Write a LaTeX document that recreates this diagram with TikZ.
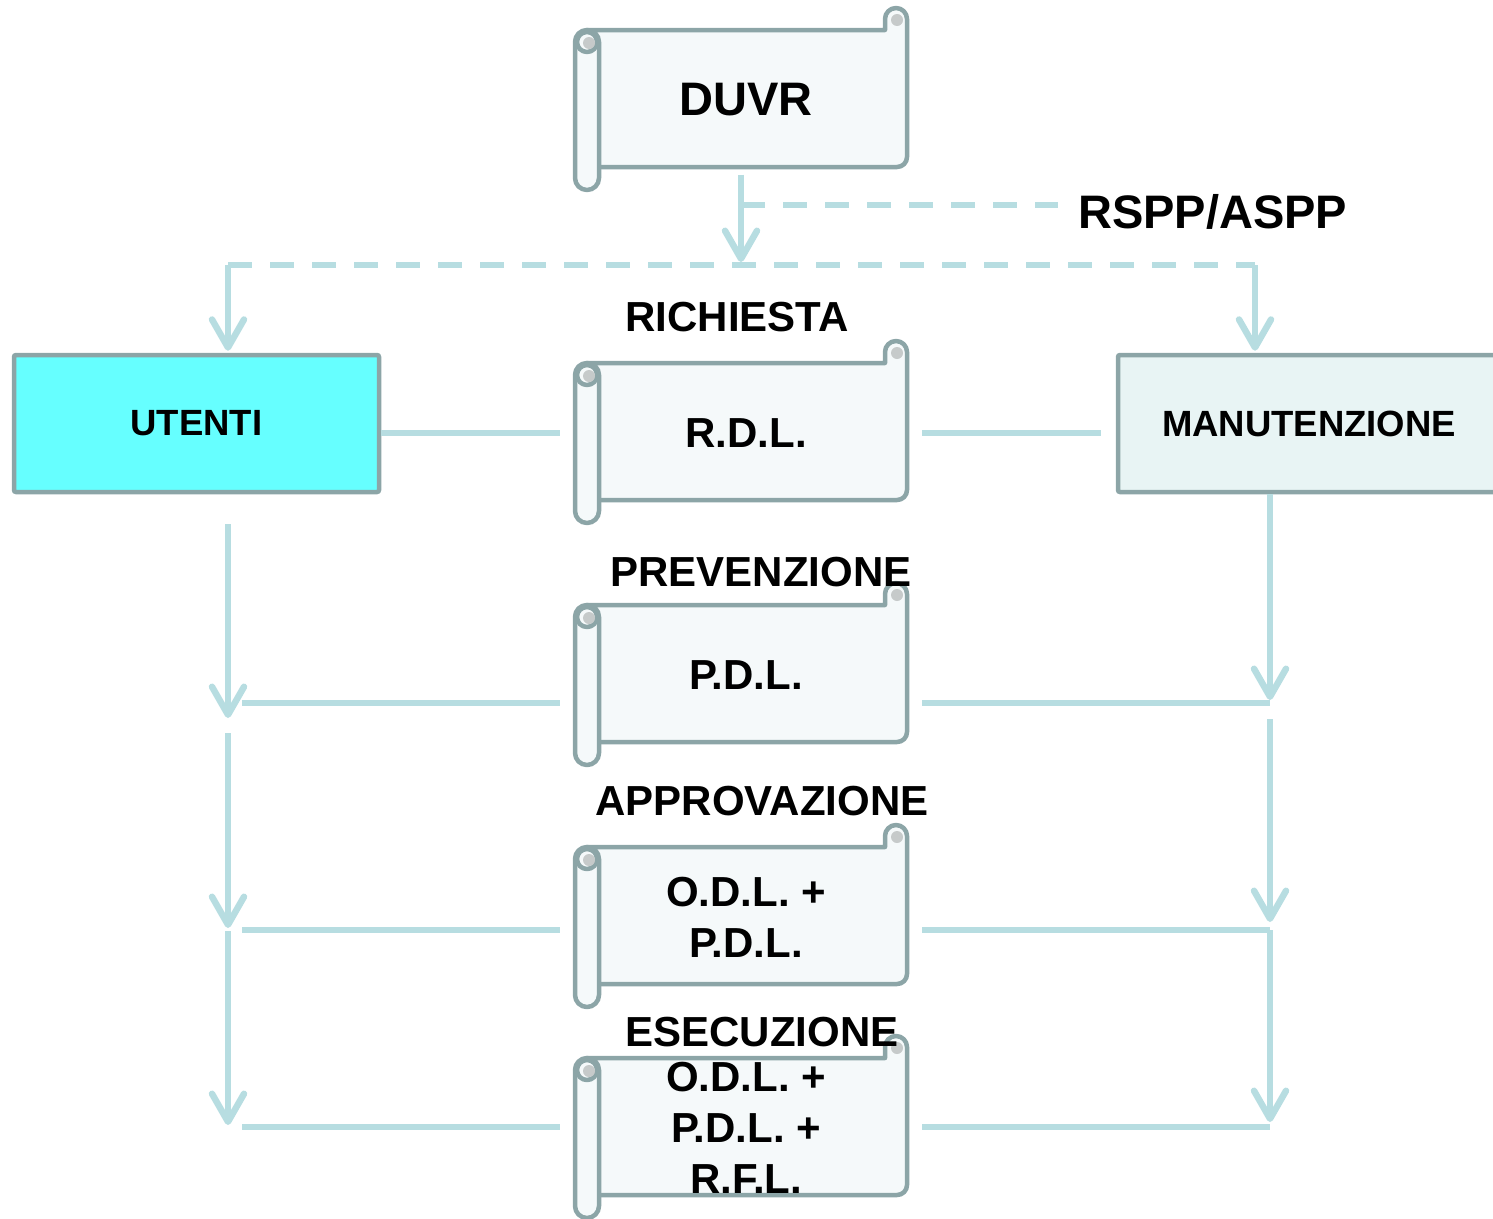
\documentclass[tikz,border=0pt]{standalone}
\usepackage{fontspec}
\setmainfont{Liberation Sans}
\usetikzlibrary{arrows.meta,backgrounds}

\definecolor{edgegray}{HTML}{8CA5A7}
\definecolor{linkblue}{HTML}{B7DDE1}
\definecolor{paper}{HTML}{F5F9FA}
\definecolor{curlgray}{HTML}{C6CACA}
\definecolor{usercyan}{HTML}{66FFFF}
\definecolor{maintpale}{HTML}{E8F4F4}

\tikzset{
  doc/.style={minimum width=333pt, minimum height=137pt, inner sep=0pt, align=center,
    font=\fontsize{42}{51}\selectfont\bfseries},
  stage/.style={font=\fontsize{42}{50}\selectfont\bfseries, inner sep=2pt},
  actor/.style={draw=edgegray, line width=4.5pt, rounded corners=2pt, minimum width=365pt,
    minimum height=137pt, font=\fontsize{36.5}{44}\selectfont\bfseries},
  link/.style={draw=linkblue, line width=5.5pt},
  dashlink/.style={link, dash pattern=on 24pt off 18pt},
  tip/.style={-{Straight Barb[length=28pt,width=32pt,line width=6.5pt,round]}},
  rolled/.style={draw=edgegray, line width=4.5pt, fill=paper, line join=round},
}

% Horizontal scroll drawn around a document node
\newcommand\scrolldoc[1]{%
  \begin{scope}[shift={(#1.center)}, shift={(-171,-70)}]
    \path[rolled] (24,137) -- (322,137) arc[start angle=90,end angle=0,radius=10]
      -- (332,-11) arc[start angle=0,end angle=-180,radius=11]
      -- (310,0) -- (12,0) -- (12,137) -- cycle;
    \fill[curlgray] (322,-10) circle[radius=6];
    \path[rolled, rounded corners=12pt] (0,0) rectangle (24,160);
    \path[rolled] (12,12) circle[radius=10];
    \fill[curlgray] (14,13) circle[radius=6];
  \end{scope}}

\begin{document}
\begin{tikzpicture}[x=1pt, y=-1pt]
\path[use as bounding box] (0,0) rectangle (1493,1218);

% documents
\node[doc] (duvr) at (746,100) {\fontsize{47}{51}\selectfont DUVR};
\node[doc] (rdl) at (746,433) {R.D.L.};
\node[doc] (pdl) at (746,675) {P.D.L.};
\node[doc] (odl) at (746,917) {O.D.L. +\\P.D.L.};
\node[doc] (rfl) at (746,1128) {O.D.L. +\\P.D.L. +\\R.F.L.};

\begin{scope}[on background layer]
  \scrolldoc{duvr}
  \scrolldoc{rdl}
  \scrolldoc{pdl}
  \scrolldoc{odl}
  \scrolldoc{rfl}
\end{scope}

% phase labels
\node[stage] (richiesta) at (737,317) {RICHIESTA};
\node[stage] (prevenzione) at (761,572) {PREVENZIONE};
\node[stage] (approvazione) at (762,801) {APPROVAZIONE};
\node[stage] (esecuzione) at (762,1032) {ESECUZIONE};
\node[stage, font=\fontsize{47}{50}\selectfont\bfseries, anchor=west] (rspp) at (1076,212) {RSPP/ASPP};

% actors
\node[actor, fill=usercyan] (utenti) at (196.5,423.5) {UTENTI};
\node[actor, fill=maintpale, minimum width=382pt] (manut) at (1309,423.5) {MANUTENZIONE};

% junctions
\coordinate (split) at (741,265);
\coordinate (tap) at (741,205);
\coordinate (barL) at (228,265);
\coordinate (barR) at (1255,265);
\coordinate (uL1) at (228,703);
\coordinate (uL2) at (228,930);
\coordinate (uL3) at (228,1127);
\coordinate (mR1) at (1270,703);
\coordinate (mR2) at (1270,930);
\coordinate (mR3) at (1270,1127);

% distribution of the DUVR
\draw[link, tip, shorten <=6pt, shorten >=3pt] (duvr.south -| split) -- (split);
\draw[dashlink, shorten >=18pt] (tap) -- (tap -| rspp.west);
\draw[dashlink] (barL) -- (barR);
\draw[link, tip, shorten >=2pt] (barL) -- (utenti.north -| barL);
\draw[link, tip, shorten >=2pt] (barR) -- (manut.north -| barR);

% request
\draw[link, shorten >=19.5pt] (utenti.east |- rdl.west) -- (rdl.west);
\draw[link, shorten <=9.5pt, shorten >=15pt] (rdl.east) -- (manut.west |- rdl.east);

% users column
\draw[link, tip, shorten <=30pt, shorten >=-15pt] (utenti.south -| uL1) -- (uL1);
\draw[link, tip, shorten <=30pt, shorten >=2pt] (uL1) -- (uL2);
\draw[link, tip, shorten <=1pt, shorten >=2pt] (uL2) -- (uL3);
\draw[link, shorten <=14pt, shorten >=19.5pt] (uL1) -- (pdl.west |- uL1);
\draw[link, shorten <=14pt, shorten >=19.5pt] (uL2) -- (odl.west |- uL2);
\draw[link, shorten <=14pt, shorten >=19.5pt] (uL3) -- (rfl.west |- uL3);

% maintenance column
\draw[link, tip, shorten >=3pt] (manut.south -| mR1) -- (mR1);
\draw[link, tip, shorten <=16pt, shorten >=8pt] (mR1) -- (mR2);
\draw[link, tip, shorten >=5pt] (mR2) -- (mR3);
\draw[link, shorten <=9.5pt] (pdl.east |- mR1) -- (mR1);
\draw[link, shorten <=9.5pt] (odl.east |- mR2) -- (mR2);
\draw[link, shorten <=9.5pt] (rfl.east |- mR3) -- (mR3);
\end{tikzpicture}
\end{document}
